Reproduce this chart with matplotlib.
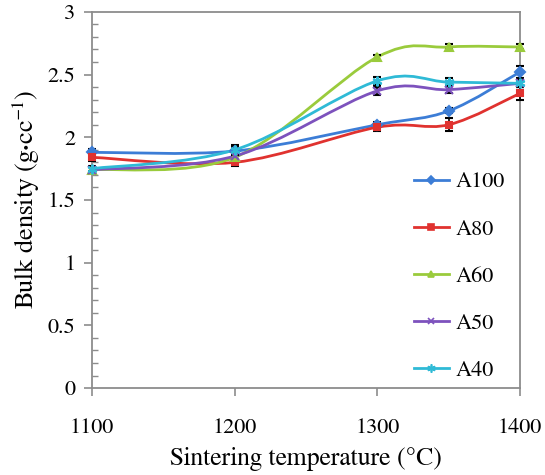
import matplotlib
matplotlib.use('Agg')
import matplotlib.pyplot as plt
from matplotlib.path import Path
from matplotlib.patches import PathPatch
from matplotlib.lines import Line2D
from matplotlib.ticker import MultipleLocator, FuncFormatter

plt.rcParams['font.family'] = ['FreeSerif', 'DejaVu Serif']
plt.rcParams['mathtext.fontset'] = 'custom'
plt.rcParams['mathtext.rm'] = 'FreeSerif'
plt.rcParams['mathtext.it'] = 'FreeSerif:italic'

# sintering temperature (°C)
temps = [1100, 1200, 1300, 1350, 1400]

series_names = ['A100', 'A80', 'A60', 'A50', 'A40']
a100 = [1.88, 1.89, 2.10, 2.21, 2.52]
a80 = [1.84, 1.80, 2.08, 2.10, 2.35]
a60 = [1.74, 1.84, 2.64, 2.72, 2.72]
a50 = [1.74, 1.85, 2.37, 2.38, 2.43]
a40 = [1.75, 1.90, 2.45, 2.44, 2.43]

# error bar half-widths
err_a100 = [0.03, 0.03, 0.02, 0.02, 0.05]
err_a80 = [0.03, 0.03, 0.03, 0.05, 0.05]
err_a60 = [0.02, 0.03, 0.02, 0.02, 0.02]
err_a50 = [0.02, 0.03, 0.03, 0.03, 0.03]
err_a40 = [0.02, 0.04, 0.03, 0.03, 0.03]

colors = ['#3c7dd6', '#e0322f', '#9acb3c', '#7d52bd', '#2fbad6']
markers = ['D', 's', '^', 'x', (6, 2, 0)]
msizes = [5, 5, 6, 6, 7]


def smooth_path(xs, ys):
    # Catmull-Rom style bezier like spreadsheet "smoothed line"
    pts = list(zip(xs, ys))
    n = len(pts)
    verts = [pts[0]]
    codes = [Path.MOVETO]
    for i in range(n - 1):
        p0 = pts[i - 1] if i > 0 else pts[i]
        p1 = pts[i]
        p2 = pts[i + 1]
        p3 = pts[i + 2] if i + 2 < n else pts[i + 1]
        c1 = (p1[0] + (p2[0] - p0[0]) / 6, p1[1] + (p2[1] - p0[1]) / 6)
        c2 = (p2[0] - (p3[0] - p1[0]) / 6, p2[1] - (p3[1] - p1[1]) / 6)
        verts += [c1, c2, p2]
        codes += [Path.CURVE4] * 3
    return Path(verts, codes)


fig = plt.figure(figsize=(5.45, 4.75), dpi=100)
ax = fig.add_axes([0.169, 0.183, 0.785, 0.792])

data = [a100, a80, a60, a50, a40]
errs = [err_a100, err_a80, err_a60, err_a50, err_a40]
handles = []
for name, ys, er, c, m, ms in zip(series_names, data, errs, colors, markers, msizes):
    ax.add_patch(PathPatch(smooth_path(temps, ys), facecolor='none',
                           edgecolor=c, lw=2, zorder=2, clip_on=False))
    ax.errorbar(temps, ys, yerr=er, fmt='none', ecolor='black', elinewidth=1.2,
                capsize=3, capthick=1.5, zorder=3, clip_on=False)
    ax.plot(temps, ys, linestyle='none', marker=m, color=c, markersize=ms,
            markeredgewidth=1.5, zorder=4, clip_on=False)
    handles.append(Line2D([], [], color=c, lw=2, marker=m, markersize=ms - 1,
                          markeredgewidth=1.2))

ax.set_xlim(1100, 1400)
ax.set_ylim(0, 3)
ax.xaxis.set_major_locator(MultipleLocator(100))
ax.yaxis.set_major_locator(MultipleLocator(0.5))
ax.yaxis.set_minor_locator(MultipleLocator(0.1))
ax.yaxis.set_major_formatter(FuncFormatter(lambda v, p: '%g' % v))

for s in ax.spines.values():
    s.set_color('#8c8c8c')
    s.set_linewidth(1.3)
ax.tick_params(axis='both', which='major', direction='out', length=6,
               width=1.2, color='#8c8c8c', labelsize=16, pad=6)
ax.tick_params(axis='x', which='major', pad=16)
ax.tick_params(axis='y', which='minor', direction='in', length=4,
               width=1, color='#8c8c8c')

ax.set_xlabel('Sintering temperature (°C)', fontsize=18.5, labelpad=6)
ax.set_ylabel(r'Bulk density (g$\cdot$cc$^{\mathregular{-1}}$)', fontsize=19, labelpad=5)

ax.legend(handles, series_names, loc='lower right', frameon=False, fontsize=16,
          handlelength=1.6, labelspacing=1.2, handletextpad=0.3,
          bbox_to_anchor=(1.012, -0.035))

fig.savefig('out.png', dpi=100)
